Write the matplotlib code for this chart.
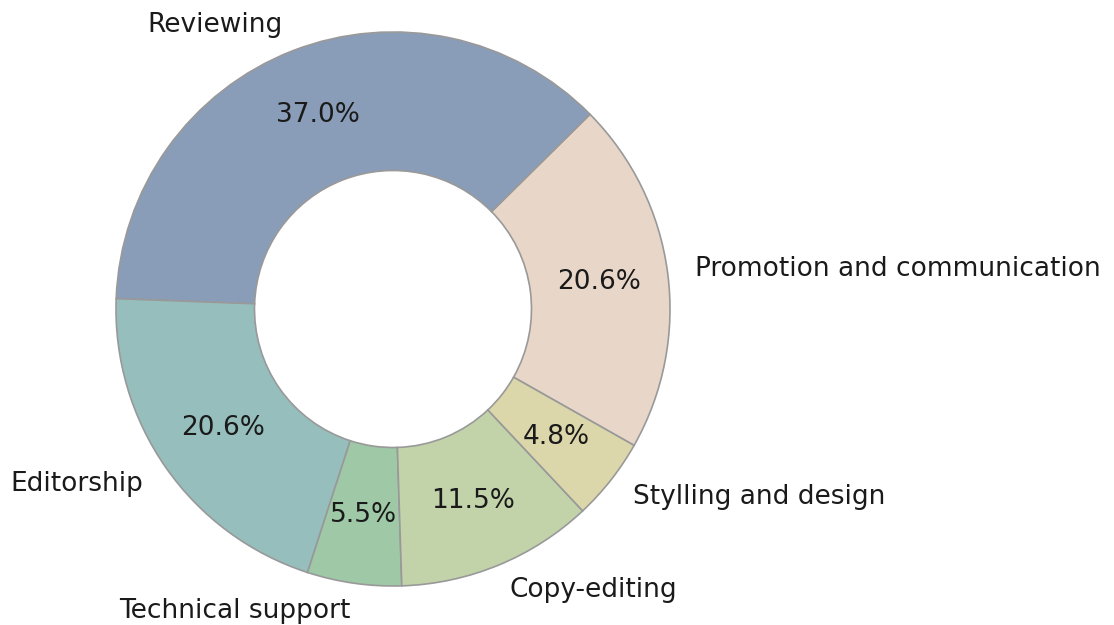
import matplotlib
matplotlib.use("Agg")
import matplotlib.pyplot as plt

labels = ["Promotion and communication", "Reviewing", "Editorship",
          "Technical support", "Copy-editing", "Stylling and design"]
values = [20.6, 37.0, 20.6, 5.5, 11.5, 4.8]
colors = ["#e8d6c8", "#8a9db8", "#96bebd", "#9fc8a7", "#c2d3a9", "#dcd7aa"]

W, H = 1114, 625
fig = plt.figure(figsize=(W / 100, H / 100), dpi=100)
ax = fig.add_axes([0, 0, 1, 1])

cx, cy, r = 393, 625 - 309, 277
ax.pie(values, labels=labels, colors=colors, startangle=-29.5,
       autopct="%1.1f%%", pctdistance=0.75, labeldistance=1.1,
       wedgeprops=dict(width=0.5, edgecolor="#999999", linewidth=1.2),
       textprops=dict(fontsize=19, color="#1a1a1a"))
ax.set_xlim(-cx / r, (W - cx) / r)
ax.set_ylim(-cy / r, (H - cy) / r)
ax.set_aspect("auto")
ax.axis("off")
fig.savefig("out.png", dpi=100)
